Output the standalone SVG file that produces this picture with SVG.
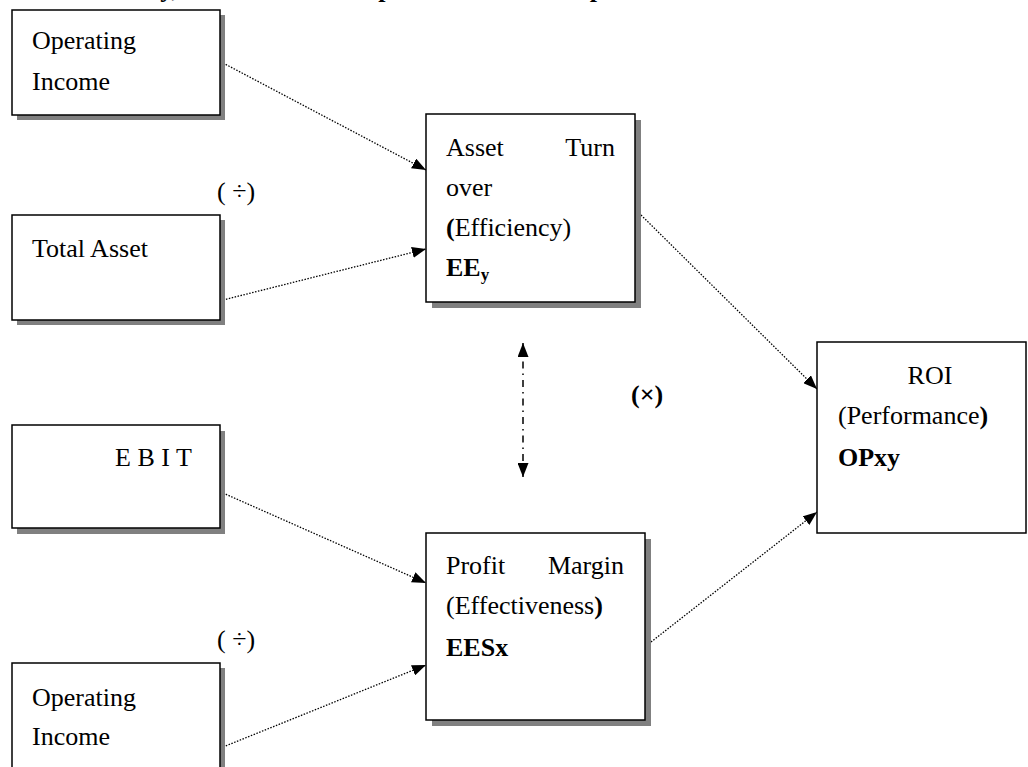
<svg xmlns="http://www.w3.org/2000/svg" width="1028" height="767" viewBox="0 0 1028 767">
<defs>
<style>
.t{font-family:"Liberation Serif","Times New Roman",serif;font-size:26px;fill:#000}
.b{font-weight:bold}
.box{fill:#fff;stroke:#000;stroke-width:1.5}
.sh{fill:#808080}
.c{fill:none;stroke:#000;stroke-width:1.3;stroke-dasharray:1.5 1.5}
.dd{fill:none;stroke:#000;stroke-width:1.5;stroke-dasharray:7 5 1.5 5}
</style>
<marker id="ah" markerUnits="userSpaceOnUse" markerWidth="14" markerHeight="11" refX="14" refY="5.5" orient="auto">
<path d="M0,0 L14,5.5 L0,11 z" fill="#000"/>
</marker>
<marker id="ahs" markerUnits="userSpaceOnUse" markerWidth="14" markerHeight="11" refX="14" refY="5.5" orient="auto-start-reverse">
<path d="M0,0 L14,5.5 L0,11 z" fill="#000"/>
</marker>
</defs>
<rect width="1028" height="767" fill="#fff"/>
<text class="t b" x="62" y="-3">Efficiency, effectiveness and performance conceptual framework</text>

<g id="connectors">
<line class="c" x1="223" y1="63" x2="426" y2="170" marker-end="url(#ah)"/>
<line class="c" x1="223" y1="300" x2="426" y2="249" marker-end="url(#ah)"/>
<line class="c" x1="641" y1="215" x2="817" y2="389" marker-end="url(#ah)"/>
<line class="c" x1="223" y1="493" x2="426" y2="583" marker-end="url(#ah)"/>
<line class="c" x1="223" y1="747" x2="426" y2="665" marker-end="url(#ah)"/>
<line class="c" x1="651" y1="642" x2="817" y2="512" marker-end="url(#ah)"/>
<line class="dd" x1="523" y1="343" x2="523" y2="477" marker-start="url(#ahs)" marker-end="url(#ahs)"/>
</g>

<g id="operating-income-top">
<rect class="sh" x="17" y="15" width="208" height="105"/>
<rect class="box" x="12" y="10" width="208" height="105"/>
<text class="t" x="32" y="49">Operating</text>
<text class="t" x="32" y="90">Income</text>
</g>

<g id="total-asset">
<rect class="sh" x="17" y="220" width="208" height="105"/>
<rect class="box" x="12" y="215" width="208" height="105"/>
<text class="t" x="32" y="257">Total Asset</text>
</g>

<g id="div-top"><text class="t" x="217" y="200">( ÷)</text></g>

<g id="asset-turnover">
<rect class="sh" x="432" y="120" width="209" height="188"/>
<rect class="box" x="426" y="114" width="209" height="188"/>
<text class="t" x="446" y="156">Asset</text>
<text class="t" x="615" y="156" text-anchor="end">Turn</text>
<text class="t" x="446" y="196">over</text>
<text class="t" x="446" y="236"><tspan class="b">(</tspan>Efficiency)</text>
<text class="t b" x="446" y="276">EE<tspan font-size="17" dy="4">y</tspan></text>
</g>

<g id="times"><text class="t b" x="631" y="403">(×)</text></g>

<g id="roi">
<rect class="box" x="817" y="342" width="209" height="191"/>
<text class="t" x="930" y="384" text-anchor="middle">ROI</text>
<text class="t" x="838" y="424">(Performance<tspan class="b">)</tspan></text>
<text class="t b" x="838" y="466">OPxy</text>
</g>

<g id="ebit">
<rect class="sh" x="17" y="431" width="208" height="103"/>
<rect class="box" x="12" y="425" width="208" height="103"/>
<text class="t" x="115" y="466">E B I T</text>
</g>

<g id="profit-margin">
<rect class="sh" x="432" y="539" width="219" height="187"/>
<rect class="box" x="426" y="533" width="219" height="187"/>
<text class="t" x="446" y="574">Profit</text>
<text class="t" x="624" y="574" text-anchor="end">Margin</text>
<text class="t" x="446" y="614">(Effectiveness<tspan class="b">)</tspan></text>
<text class="t b" x="446" y="656">EESx</text>
</g>

<g id="div-bottom"><text class="t" x="217" y="648">( ÷)</text></g>

<g id="operating-income-bottom">
<rect class="sh" x="17" y="668" width="208" height="120"/>
<rect class="box" x="12" y="663" width="208" height="120"/>
<text class="t" x="32" y="706">Operating</text>
<text class="t" x="32" y="745">Income</text>
</g>
</svg>
